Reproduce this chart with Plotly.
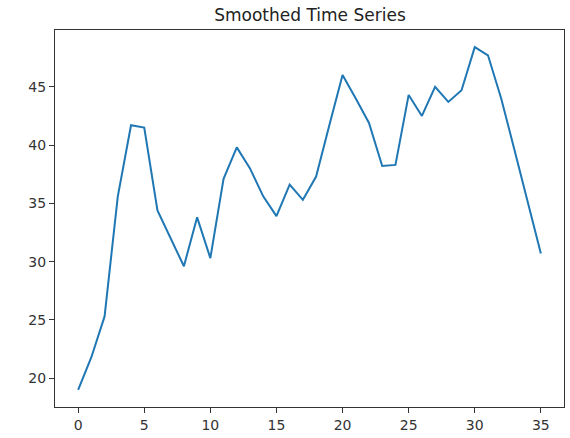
import plotly.graph_objects as go

x_values = list(range(36))
y_values = [19.0, 21.8, 25.3, 35.6, 41.7, 41.5, 34.4, 32.0, 29.6, 33.8,
            30.3, 37.1, 39.8, 38.0, 35.6, 33.9, 36.6, 35.3, 37.3, 41.7,
            46.0, 44.0, 41.9, 38.2, 38.3, 44.3, 42.5, 45.0, 43.7, 44.7,
            48.4, 47.7, 44.0, 39.6, 35.1, 30.7]
x_ticks = [0, 5, 10, 15, 20, 25, 30, 35]
y_ticks = [20, 25, 30, 35, 40, 45]
title_text = "Smoothed Time Series"

def padded(lo, hi, frac=0.05):
    d = (hi - lo) * frac
    return [lo - d, hi + d]

W, H = 570, 438
fig = go.Figure()
fig.add_trace(go.Scatter(x=x_values, y=y_values, mode="lines",
                         line=dict(color="#1f77b4", width=2), hoverinfo="skip"))

axis_common = dict(showline=True, mirror=True, linecolor="#333333", linewidth=1,
                   showgrid=False, zeroline=False, ticks="outside", ticklen=5,
                   tickwidth=1, tickcolor="#333333",
                   tickfont=dict(family="DejaVu Sans", size=14, color="#333333"))

fig.update_layout(
    width=W, height=H,
    margin=dict(l=55, r=W - 565, t=30, b=H - 411),
    paper_bgcolor="white", plot_bgcolor="white",
    showlegend=False,
    title=dict(text=title_text, x=310 / W, xanchor="center",
               y=1 - 15 / H, yanchor="middle",
               font=dict(family="DejaVu Sans", size=17, color="#222222")),
    xaxis=dict(range=padded(min(x_values), max(x_values)), tickvals=x_ticks, **axis_common),
    yaxis=dict(range=padded(min(y_values), max(y_values)), tickvals=y_ticks, **axis_common),
)

fig.write_html("out.html",
               config={"displayModeBar": False, "staticPlot": True},
               post_script="document.body.style.margin='0';document.body.style.overflow='hidden';")
